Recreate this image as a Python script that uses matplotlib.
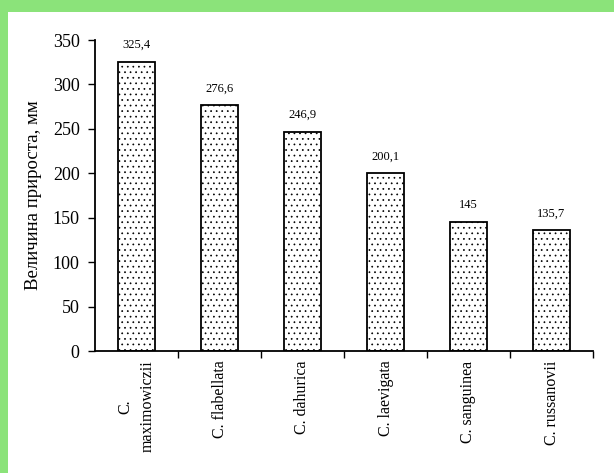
import matplotlib
matplotlib.use("Agg")
import matplotlib.pyplot as plt
from matplotlib.patches import Rectangle

categories = ["C.\nmaximowiczii", "C. flabellata", "C. dahurica", "C. laevigata", "C. sanguinea", "C. russanovii"]
values = [325.4, 276.6, 246.9, 200.1, 145, 135.7]
value_labels = ["325,4", "276,6", "246,9", "200,1", "145", "135,7"]
yticks = [0, 50, 100, 150, 200, 250, 300, 350]

plt.rcParams['font.family'] = ['Liberation Serif', 'DejaVu Serif']
plt.rcParams['hatch.color'] = '#9a9a9a'
plt.rcParams['hatch.linewidth'] = 0.5

fig = plt.figure(figsize=(6.14, 4.73), dpi=100)
fig.patch.set_facecolor('#8be37a')
fig.patches.append(Rectangle((8/614, 0), 1 - 8/614, 1 - 12/473, transform=fig.transFigure,
                             facecolor='white', edgecolor='none', zorder=-10))

ax = fig.add_axes([95/614, (473-351)/473, (593-95)/614, (351-40)/473])
ax.set_facecolor('none')
ax.set_zorder(5)
x = list(range(len(categories)))
ax.bar(x, values, width=0.435, color='white', edgecolor='black', linewidth=1.3, hatch='...')
for xi, v, lab in zip(x, values, value_labels):
    ax.text(xi, v + 12, lab, ha='center', va='bottom', fontsize=9)

ax.set_xlim(-0.5, len(categories) - 0.5)
ax.set_ylim(0, 350)
ax.set_yticks(yticks)
ax.tick_params(axis='y', labelsize=13, length=5, width=1, direction='out', pad=6)
ax.set_xticks(x)
ax.set_xticklabels(categories, rotation=90, fontsize=11.5, ha='center', va='top',
                   linespacing=1.6, multialignment='center')
ax.tick_params(axis='x', which='major', length=0, pad=7)
ax.set_xticks([i + 0.5 for i in x], minor=True)
ax.tick_params(axis='x', which='minor', length=5, width=1, direction='out')
for s in ['top', 'right']:
    ax.spines[s].set_visible(False)
for s in ['left', 'bottom']:
    ax.spines[s].set_linewidth(1.3)
ax.set_ylabel("Величина прироста, мм", fontsize=13.5, labelpad=8)

fig.savefig("out.png", dpi=100, facecolor=fig.get_facecolor())
